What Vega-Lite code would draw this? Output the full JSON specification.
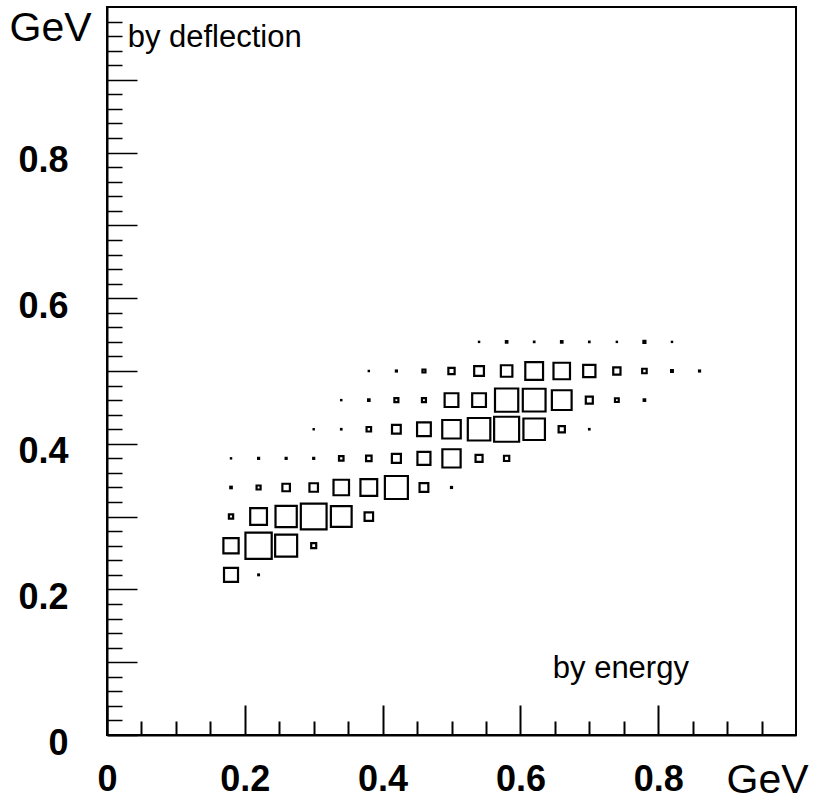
{
  "$schema": "https://vega.github.io/schema/vega-lite/v6.json",
  "width": 689,
  "height": 728,
  "autosize": {"type": "none"},
  "padding": {"left": 107, "top": 7, "right": 21, "bottom": 68},
  "background": "white",
  "config": {
    "view": {"stroke": "black", "strokeWidth": 2},
    "font": "Liberation Sans"
  },
  "datasets": {
    "bins": [
      {"x": 0.18, "y": 0.22, "count": 56}, {"x": 0.22, "y": 0.22, "count": 3},
      {"x": 0.18, "y": 0.26, "count": 61}, {"x": 0.22, "y": 0.26, "count": 105}, {"x": 0.26, "y": 0.26, "count": 88}, {"x": 0.30, "y": 0.26, "count": 20},
      {"x": 0.18, "y": 0.30, "count": 17}, {"x": 0.22, "y": 0.30, "count": 67}, {"x": 0.26, "y": 0.30, "count": 85}, {"x": 0.30, "y": 0.30, "count": 103}, {"x": 0.34, "y": 0.30, "count": 83}, {"x": 0.38, "y": 0.30, "count": 34},
      {"x": 0.18, "y": 0.34, "count": 6}, {"x": 0.22, "y": 0.34, "count": 16}, {"x": 0.26, "y": 0.34, "count": 30}, {"x": 0.30, "y": 0.34, "count": 34}, {"x": 0.34, "y": 0.34, "count": 62}, {"x": 0.38, "y": 0.34, "count": 67}, {"x": 0.42, "y": 0.34, "count": 92}, {"x": 0.46, "y": 0.34, "count": 35}, {"x": 0.50, "y": 0.34, "count": 4},
      {"x": 0.18, "y": 0.38, "count": 1}, {"x": 0.22, "y": 0.38, "count": 4}, {"x": 0.26, "y": 0.38, "count": 4}, {"x": 0.30, "y": 0.38, "count": 4}, {"x": 0.34, "y": 0.38, "count": 18}, {"x": 0.38, "y": 0.38, "count": 22}, {"x": 0.42, "y": 0.38, "count": 36}, {"x": 0.46, "y": 0.38, "count": 52}, {"x": 0.50, "y": 0.38, "count": 73}, {"x": 0.54, "y": 0.38, "count": 28}, {"x": 0.58, "y": 0.38, "count": 21},
      {"x": 0.30, "y": 0.42, "count": 1}, {"x": 0.34, "y": 0.42, "count": 2}, {"x": 0.38, "y": 0.42, "count": 18}, {"x": 0.42, "y": 0.42, "count": 35}, {"x": 0.46, "y": 0.42, "count": 55}, {"x": 0.50, "y": 0.42, "count": 74}, {"x": 0.54, "y": 0.42, "count": 90}, {"x": 0.58, "y": 0.42, "count": 100}, {"x": 0.62, "y": 0.42, "count": 86}, {"x": 0.66, "y": 0.42, "count": 25}, {"x": 0.70, "y": 0.42, "count": 2},
      {"x": 0.34, "y": 0.46, "count": 1}, {"x": 0.38, "y": 0.46, "count": 6}, {"x": 0.42, "y": 0.46, "count": 16}, {"x": 0.46, "y": 0.46, "count": 16}, {"x": 0.50, "y": 0.46, "count": 55}, {"x": 0.54, "y": 0.46, "count": 55}, {"x": 0.58, "y": 0.46, "count": 93}, {"x": 0.62, "y": 0.46, "count": 91}, {"x": 0.66, "y": 0.46, "count": 79}, {"x": 0.70, "y": 0.46, "count": 28}, {"x": 0.74, "y": 0.46, "count": 15}, {"x": 0.78, "y": 0.46, "count": 6},
      {"x": 0.38, "y": 0.50, "count": 1}, {"x": 0.42, "y": 0.50, "count": 4}, {"x": 0.46, "y": 0.50, "count": 12}, {"x": 0.50, "y": 0.50, "count": 25}, {"x": 0.54, "y": 0.50, "count": 39}, {"x": 0.58, "y": 0.50, "count": 46}, {"x": 0.62, "y": 0.50, "count": 71}, {"x": 0.66, "y": 0.50, "count": 66}, {"x": 0.70, "y": 0.50, "count": 49}, {"x": 0.74, "y": 0.50, "count": 29}, {"x": 0.78, "y": 0.50, "count": 18}, {"x": 0.82, "y": 0.50, "count": 7}, {"x": 0.86, "y": 0.50, "count": 4},
      {"x": 0.54, "y": 0.54, "count": 1}, {"x": 0.58, "y": 0.54, "count": 6}, {"x": 0.62, "y": 0.54, "count": 2}, {"x": 0.66, "y": 0.54, "count": 6}, {"x": 0.70, "y": 0.54, "count": 2}, {"x": 0.74, "y": 0.54, "count": 1}, {"x": 0.78, "y": 0.54, "count": 8}, {"x": 0.82, "y": 0.54, "count": 1}
    ],
    "notes": [
      {"x": 0.03, "y": 0.945, "label": "by deflection"},
      {"x": 0.647, "y": 0.078, "label": "by energy"}
    ]
  },
  "encoding": {
    "x": {
      "field": "x",
      "type": "quantitative",
      "scale": {"domain": [0, 1], "nice": false, "zero": false},
      "axis": {
        "values": [0, 0.05, 0.1, 0.15, 0.2, 0.25, 0.3, 0.35, 0.4, 0.45, 0.5, 0.55, 0.6, 0.65, 0.7, 0.75, 0.8, 0.85, 0.9, 0.95],
        "labelExpr": "abs(datum.value*5 - round(datum.value*5)) < 0.01 ? format(datum.value, '.1~f') : ''",
        "tickSize": {"condition": {"test": "abs(datum.value*5 - round(datum.value*5)) < 0.01", "value": -30}, "value": -14},
        "tickWidth": 2,
        "tickColor": "black",
        "domainColor": "black",
        "domainWidth": 2,
        "grid": false,
        "labelFont": "Liberation Sans",
        "labelFontSize": 36,
        "labelFontWeight": "bold",
        "labelColor": "black",
        "labelPadding": 57,
        "labelFlush": false,
        "labelOverlap": false,
        "labelBound": false,
        "title": "GeV",
        "titleFont": "Liberation Sans",
        "titleFontSize": 41,
        "titleFontWeight": "normal",
        "titleColor": "black",
        "titleAlign": "left",
        "titleBaseline": "alphabetic",
        "titleX": 619,
        "titleY": 57
      }
    },
    "y": {
      "field": "y",
      "type": "quantitative",
      "scale": {"domain": [0, 1], "nice": false, "zero": false},
      "axis": {
        "values": [0, 0.02, 0.04, 0.06, 0.08, 0.1, 0.12, 0.14, 0.16, 0.18, 0.2, 0.22, 0.24, 0.26, 0.28, 0.3, 0.32, 0.34, 0.36, 0.38, 0.4, 0.42, 0.44, 0.46, 0.48, 0.5, 0.52, 0.54, 0.56, 0.58, 0.6, 0.62, 0.64, 0.66, 0.68, 0.7, 0.72, 0.74, 0.76, 0.78, 0.8, 0.82, 0.84, 0.86, 0.88, 0.9, 0.92, 0.94, 0.96, 0.98],
        "labelExpr": "abs(datum.value*5 - round(datum.value*5)) < 0.01 ? format(datum.value, '.1~f') : ''",
        "tickSize": {"condition": {"test": "abs(datum.value*10 - round(datum.value*10)) < 0.01", "value": -30}, "value": -15},
        "tickWidth": 1.5,
        "tickColor": "black",
        "domainColor": "black",
        "domainWidth": 2,
        "grid": false,
        "labelFont": "Liberation Sans",
        "labelFontSize": 36,
        "labelFontWeight": "bold",
        "labelColor": "black",
        "labelPadding": 69,
        "labelOffset": 8,
        "labelBaseline": "middle",
        "labelFlush": false,
        "labelOverlap": false,
        "labelBound": false,
        "title": "GeV",
        "titleFont": "Liberation Sans",
        "titleFontSize": 41,
        "titleFontWeight": "normal",
        "titleColor": "black",
        "titleAngle": 0,
        "titleAlign": "left",
        "titleBaseline": "alphabetic",
        "titleX": -98,
        "titleY": 33
      }
    }
  },
  "layer": [
    {
      "data": {"name": "bins"},
      "mark": {"type": "square", "filled": false, "stroke": "black", "strokeWidth": 2.2, "opacity": 1},
      "encoding": {
        "size": {
          "field": "count",
          "type": "quantitative",
          "scale": {"type": "pow", "exponent": 2, "domain": [0, 100], "range": [0, 625]},
          "legend": null
        }
      }
    },
    {
      "data": {"name": "notes"},
      "mark": {"type": "text", "align": "left", "baseline": "alphabetic", "fontSize": 31, "font": "Liberation Sans", "color": "black"},
      "encoding": {
        "text": {"field": "label", "type": "nominal"}
      }
    }
  ]
}
